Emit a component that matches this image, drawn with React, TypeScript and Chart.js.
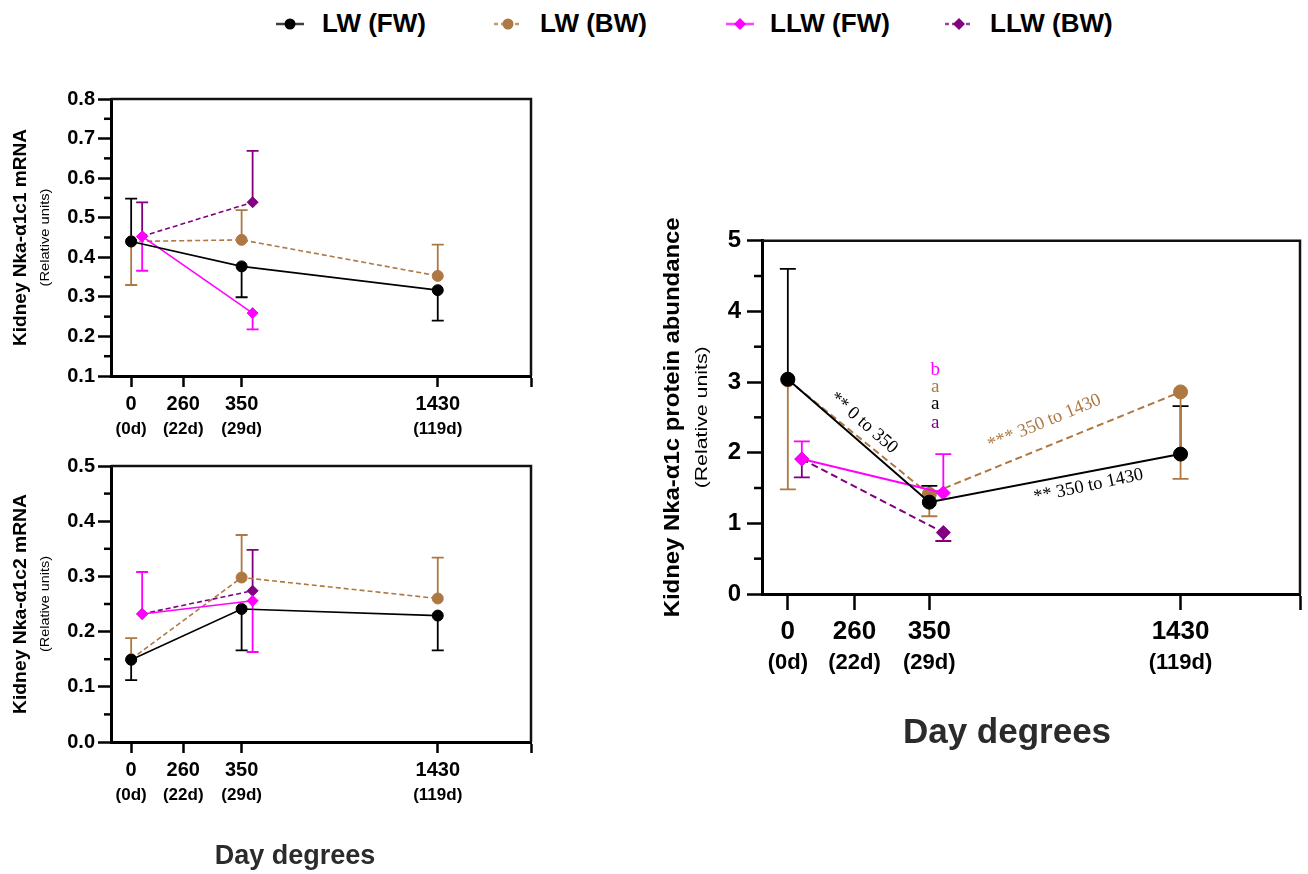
import React, { useEffect, useRef } from "react";
import { Chart, registerables, LinearScale } from "chart.js";

Chart.register(...registerables);

// ---------------- data ----------------
const seriesNames = ["LW (FW)", "LW (BW)", "LLW (FW)", "LLW (BW)"];
const tickDegrees = [0, 260, 350, 1430];
const tickDays = ["(0d)", "(22d)", "(29d)", "(119d)"];
const lwDegrees = [0, 350, 1430];
const llwDegrees = [0, 350];

// Kidney Nka-α1c1 mRNA
const c1Ticks = [0.1, 0.2, 0.3, 0.4, 0.5, 0.6, 0.7, 0.8];
const c1_lwFW = [0.44, 0.377, 0.317];
const c1_lwFW_hi = [0.548, null, null];
const c1_lwFW_lo = [null, 0.299, 0.24];
const c1_lwBW = [0.44, 0.444, 0.353];
const c1_lwBW_hi = [null, 0.519, 0.432];
const c1_lwBW_lo = [0.33, null, null];
const c1_llwFW = [0.453, 0.259];
const c1_llwFW_hi = [null, null];
const c1_llwFW_lo = [0.366, 0.218];
const c1_llwBW = [0.453, 0.539];
const c1_llwBW_hi = [0.539, 0.669];
const c1_llwBW_lo = [null, null];

// Kidney Nka-α1c2 mRNA
const c2Ticks = [0.0, 0.1, 0.2, 0.3, 0.4, 0.5];
const c2_lwFW = [0.149, 0.241, 0.229];
const c2_lwFW_hi = [null, null, null];
const c2_lwFW_lo = [0.112, 0.166, 0.166];
const c2_lwBW = [0.15, 0.298, 0.26];
const c2_lwBW_hi = [0.188, 0.375, 0.334];
const c2_lwBW_lo = [null, null, null];
const c2_llwFW = [0.232, 0.256];
const c2_llwFW_hi = [0.308, null];
const c2_llwFW_lo = [null, 0.163];
const c2_llwBW = [0.232, 0.274];
const c2_llwBW_hi = [null, 0.348];
const c2_llwBW_lo = [null, null];

// Kidney Nka-α1c protein abundance
const pTicks = [0, 1, 2, 3, 4, 5];
const p_lwFW = [3.04, 1.3, 1.98];
const p_lwFW_hi = [4.6, 1.53, 2.66];
const p_lwFW_lo = [null, null, null];
const p_lwBW = [3.03, 1.41, 2.86];
const p_lwBW_hi = [null, null, null];
const p_lwBW_lo = [1.48, 1.1, 1.63];
const p_llwFW = [1.91, 1.43];
const p_llwFW_hi = [2.16, 1.98];
const p_llwFW_lo = [null, null];
const p_llwBW = [1.91, 0.87];
const p_llwBW_hi = [null, null];
const p_llwBW_lo = [1.65, 0.75];

// significance letters at 350 (LLW FW, LW BW, LW FW, LLW BW)
const sigLetters = ["b", "a", "a", "a"];
const sigLetterValues = [3.17, 2.93, 2.69, 2.42];
// comparison labels: text, anchor degree, anchor value
const compTexts = ["** 0 to 350", "*** 350 to 1430", "** 350 to 1430"];
const compDegrees = [271, 845, 1034];
const compValues = [2.42, 2.43, 1.53];

// ---------------- styles ----------------
const SANS = '"Liberation Sans", Arial, Helvetica, sans-serif';
const SERIF = '"Liberation Serif", "Times New Roman", serif';
const C_BLACK = "#000000";
const C_BROWN = "#AE7843";
const C_PINK = "#FF00FF";
const C_PURPLE = "#800080";
const SERIES_COLORS = [C_BLACK, C_BROWN, C_PINK, C_PURPLE];
const SERIES_DASHED = [false, true, false, true];
const SERIES_DIAMOND = [false, false, true, true];
const SIG_COLORS = [C_PINK, C_BROWN, C_BLACK, C_PURPLE];
const COMP_COLORS = [C_BLACK, C_BROWN, C_BLACK];
const COMP_ANGLES = [41, -22.5, -12];

// piecewise x axis: [value, fraction of plot width]
const X_END = 1830;
const X_BREAKS: number[][] = [
  [-110, 0],
  [0, 0.048],
  [260, 0.172],
  [350, 0.311],
  [1430, 0.778],
  [X_END, 1],
];

class DegreeScale extends LinearScale {
  static id = "degree";
  static defaults = {};
  determineDataLimits() {
    (this as any).min = X_BREAKS[0][0];
    (this as any).max = X_BREAKS[X_BREAKS.length - 1][0];
  }
  buildTicks() {
    (this as any).start = (this as any).min;
    (this as any).end = (this as any).max;
    return [...tickDegrees, X_END].map((v) => ({ value: v }));
  }
  getPixelForValue(value: number) {
    if (value === null || value === undefined || isNaN(value)) return NaN;
    const b = X_BREAKS;
    let i = 1;
    while (i < b.length - 1 && value > b[i][0]) i++;
    const [v0, f0] = b[i - 1];
    const [v1, f1] = b[i];
    const f = f0 + ((value - v0) / (v1 - v0)) * (f1 - f0);
    const shift = (this.options as any).pixelShift || 0;
    return (this as any).left + f * (this as any).width + shift;
  }
  getValueForPixel(pixel: number) {
    const shift = (this.options as any).pixelShift || 0;
    const f = (pixel - shift - (this as any).left) / (this as any).width;
    const b = X_BREAKS;
    let i = 1;
    while (i < b.length - 1 && f > b[i][1]) i++;
    const [v0, f0] = b[i - 1];
    const [v1, f1] = b[i];
    return v0 + ((f - f0) / (f1 - f0)) * (v1 - v0);
  }
}
Chart.register(DegreeScale as any);

type Num = number | null;
interface SeriesSet {
  ys: number[][];
  hi: Num[][];
  lo: Num[][];
}

interface Panel {
  width: number;
  height: number;
  padTop: number;
  padRight: number;
  yWidth: number;
  xHeight: number;
  yTicks: number[];
  yDecimals: number;
  minorStep: number;
  minorLen: number;
  yTickLen: number;
  yTickPad: number;
  yTickSize: number;
  xTickLen: number;
  xTickPad: number;
  xTickSize: number;
  line2Size: number;
  line2Dy: number;
  llwShift: number;
  circleR: number;
  diamondR: number;
  lineW: number;
  dash: number[];
  cap: number;
  axisW: number;
  title: string;
  titleSize: number;
  titleX: number;
  titleLen: number;
  sub: string;
  subSize: number;
  subX: number;
  subLen: number;
  dayDeg?: { x: number; y: number; size: number };
  series: SeriesSet;
  annotations?: boolean;
}

function drawText(
  ctx: CanvasRenderingContext2D,
  text: string,
  x: number,
  y: number,
  font: string,
  color: string,
  angleDeg: number,
  targetLen?: number
) {
  ctx.save();
  ctx.font = font;
  ctx.fillStyle = color;
  ctx.textAlign = "center";
  ctx.textBaseline = "middle";
  const w = ctx.measureText(text).width;
  const sx = targetLen ? targetLen / w : 1;
  ctx.translate(x, y);
  ctx.rotate((angleDeg * Math.PI) / 180);
  ctx.scale(sx, 1);
  ctx.fillText(text, 0, 0);
  ctx.restore();
}

function buildChart(canvas: HTMLCanvasElement, p: Panel) {
  const xsFor = [lwDegrees, lwDegrees, llwDegrees, llwDegrees];
  const order = [0, 2, 1, 3]; // black on top, then pink, brown, purple
  const datasets = order.map((k) => {
    const color = SERIES_COLORS[k];
    const diamond = SERIES_DIAMOND[k];
    const xs = xsFor[k];
    return {
      label: seriesNames[k],
      data: xs.map((x, i) => ({ x, y: p.series.ys[k][i] })),
      errHi: p.series.hi[k],
      errLo: p.series.lo[k],
      borderColor: color,
      backgroundColor: color,
      pointBackgroundColor: color,
      pointBorderColor: color,
      borderWidth: p.lineW,
      borderDash: SERIES_DASHED[k] ? p.dash : [],
      pointStyle: diamond ? "rectRot" : "circle",
      pointRadius: diamond ? p.diamondR : p.circleR,
      pointBorderWidth: 1,
      xAxisID: diamond ? "xs" : "x",
      yAxisID: "y",
      tension: 0,
      fill: false,
    };
  });

  const extras = {
    id: "extras",
    beforeDatasetsDraw(chart: any) {
      const ctx = chart.ctx as CanvasRenderingContext2D;
      const ys = chart.scales.y;
      chart.data.datasets.forEach((ds: any, i: number) => {
        const meta = chart.getDatasetMeta(i);
        ctx.save();
        ctx.strokeStyle = ds.borderColor;
        ctx.lineWidth = 1.8;
        ctx.setLineDash([]);
        meta.data.forEach((pt: any, j: number) => {
          [ds.errHi[j], ds.errLo[j]].forEach((e: Num) => {
            if (e === null || e === undefined) return;
            const yE = ys.getPixelForValue(e);
            ctx.beginPath();
            ctx.moveTo(pt.x, pt.y);
            ctx.lineTo(pt.x, yE);
            ctx.moveTo(pt.x - p.cap / 2, yE);
            ctx.lineTo(pt.x + p.cap / 2, yE);
            ctx.stroke();
          });
        });
        ctx.restore();
      });
    },
    afterDraw(chart: any) {
      const ctx = chart.ctx as CanvasRenderingContext2D;
      const a = chart.chartArea;
      const xS = chart.scales.x;
      const yS = chart.scales.y;
      ctx.save();
      // top & right frame
      ctx.strokeStyle = "#111";
      ctx.lineWidth = p.axisW - 0.5;
      ctx.beginPath();
      ctx.moveTo(a.left, a.top);
      ctx.lineTo(a.right, a.top);
      ctx.lineTo(a.right, a.bottom);
      ctx.stroke();
      // minor ticks
      ctx.strokeStyle = "#000";
      ctx.lineWidth = 2.5;
      const ymin = p.yTicks[0];
      const ymax = p.yTicks[p.yTicks.length - 1];
      const n = Math.round((ymax - ymin) / p.minorStep);
      for (let i = 1; i < n; i += 2) {
        const v = ymin + i * p.minorStep;
        const y = yS.getPixelForValue(v);
        ctx.beginPath();
        ctx.moveTo(a.left - p.minorLen, y);
        ctx.lineTo(a.left, y);
        ctx.stroke();
      }
      ctx.restore();
      // second line of x tick labels
      tickDays.forEach((t, i) => {
        const x = xS.getPixelForValue(tickDegrees[i]);
        drawText(ctx, t, x, a.bottom + p.line2Dy, `bold ${p.line2Size}px ${SANS}`, "#000", 0);
      });
      // y titles
      const cy = (a.top + a.bottom) / 2;
      drawText(ctx, p.title, p.titleX, cy, `bold ${p.titleSize}px ${SANS}`, "#000", -90, p.titleLen);
      drawText(ctx, p.sub, p.subX, cy, `${p.subSize}px ${SANS}`, "#000", -90, p.subLen);
      if (p.dayDeg) {
        drawText(ctx, "Day degrees", p.dayDeg.x, p.dayDeg.y, `bold ${p.dayDeg.size}px ${SANS}`, "#2b2b2b", 0);
      }
      if (p.annotations) {
        const x350 = xS.getPixelForValue(350) + 6;
        sigLetters.forEach((t, i) => {
          drawText(ctx, t, x350, yS.getPixelForValue(sigLetterValues[i]), `19px ${SERIF}`, SIG_COLORS[i], 0);
        });
        compTexts.forEach((t, i) => {
          drawText(
            ctx,
            t,
            xS.getPixelForValue(compDegrees[i]),
            yS.getPixelForValue(compValues[i]),
            `18.5px ${SERIF}`,
            COMP_COLORS[i],
            COMP_ANGLES[i]
          );
        });
      }
    },
  };

  const xCommon = (shift: number, display: boolean) => ({
    type: "degree",
    axis: "x",
    position: "bottom",
    display,
    pixelShift: shift,
    border: { display: true, color: "#000", width: p.axisW },
    grid: {
      display: true,
      drawOnChartArea: false,
      drawTicks: true,
      tickLength: p.xTickLen,
      tickWidth: 2.5,
      tickColor: "#000",
    },
    ticks: {
      autoSkip: false,
      maxRotation: 0,
      minRotation: 0,
      padding: p.xTickPad,
      color: "#000",
      font: { family: SANS, size: p.xTickSize, weight: "bold" },
      callback: (v: number) => (v === X_END ? "" : String(v)),
    },
    afterFit: (s: any) => {
      s.height = display ? p.xHeight : 0;
    },
  });

  return new Chart(canvas, {
    type: "line",
    data: { datasets: datasets as any },
    plugins: [extras as any],
    options: {
      responsive: false,
      animation: false,
      maintainAspectRatio: false,
      layout: { padding: { top: p.padTop, right: p.padRight, left: 0, bottom: 0 } },
      plugins: { legend: { display: false }, tooltip: { enabled: false } },
      events: [],
      scales: {
        x: xCommon(0, true) as any,
        xs: xCommon(p.llwShift, false) as any,
        y: {
          type: "linear",
          position: "left",
          min: p.yTicks[0],
          max: p.yTicks[p.yTicks.length - 1],
          afterBuildTicks: (s: any) => {
            s.ticks = p.yTicks.map((v) => ({ value: v }));
          },
          border: { display: true, color: "#000", width: p.axisW },
          grid: {
            display: true,
            drawOnChartArea: false,
            drawTicks: true,
            tickLength: p.yTickLen,
            tickWidth: 2.5,
            tickColor: "#000",
          },
          ticks: {
            padding: p.yTickPad,
            color: "#000",
            font: { family: SANS, size: p.yTickSize, weight: "bold" },
            callback: (v: number) => Number(v).toFixed(p.yDecimals),
          },
          afterFit: (s: any) => {
            s.width = p.yWidth;
          },
        } as any,
      },
    },
  });
}

const smallBase = {
  width: 560,
  padRight: 29,
  yWidth: 111,
  minorLen: 7,
  yTickLen: 13,
  yTickPad: 3,
  yTickSize: 20,
  xTickLen: 11,
  xTickPad: 5,
  xTickSize: 20,
  line2Size: 17,
  line2Dy: 53,
  llwShift: 11,
  circleR: 5.5,
  diamondR: 5.5,
  lineW: 1.6,
  dash: [5, 3],
  cap: 12,
  axisW: 3,
  titleSize: 18,
  titleX: 21,
  subSize: 13,
  subX: 45,
};

const panelC1: Panel = {
  ...smallBase,
  height: 370,
  padTop: 19,
  xHeight: 74,
  yTicks: c1Ticks,
  yDecimals: 1,
  minorStep: 0.05,
  title: "Kidney Nka-α1c1 mRNA",
  titleLen: 217,
  sub: "(Relative units)",
  subLen: 98,
  series: {
    ys: [c1_lwFW, c1_lwBW, c1_llwFW, c1_llwBW],
    hi: [c1_lwFW_hi, c1_lwBW_hi, c1_llwFW_hi, c1_llwBW_hi],
    lo: [c1_lwFW_lo, c1_lwBW_lo, c1_llwFW_lo, c1_llwBW_lo],
  },
};

const panelC2: Panel = {
  ...smallBase,
  height: 434,
  padTop: 26,
  xHeight: 132,
  yTicks: c2Ticks,
  yDecimals: 1,
  minorStep: 0.05,
  title: "Kidney Nka-α1c2 mRNA",
  titleLen: 220,
  sub: "(Relative units)",
  subLen: 96,
  dayDeg: { x: 295, y: 417, size: 27 },
  series: {
    ys: [c2_lwFW, c2_lwBW, c2_llwFW, c2_llwBW],
    hi: [c2_lwFW_hi, c2_lwBW_hi, c2_llwFW_hi, c2_llwBW_hi],
    lo: [c2_lwFW_lo, c2_lwBW_lo, c2_llwFW_lo, c2_llwBW_lo],
  },
};

const panelP: Panel = {
  width: 678,
  height: 600,
  padTop: 50.7,
  padRight: 8,
  yWidth: 132,
  xHeight: 196,
  yTicks: pTicks,
  yDecimals: 0,
  minorStep: 0.5,
  minorLen: 8,
  yTickLen: 15,
  yTickPad: 6,
  yTickSize: 24,
  xTickLen: 16,
  xTickPad: 6,
  xTickSize: 26,
  line2Size: 22,
  line2Dy: 69,
  llwShift: 14,
  circleR: 7,
  diamondR: 7,
  lineW: 2,
  dash: [7, 4],
  cap: 16,
  axisW: 3,
  title: "Kidney Nka-α1c protein abundance",
  titleSize: 22,
  titleX: 43,
  titleLen: 400,
  sub: "(Relative units)",
  subSize: 17,
  subX: 72,
  subLen: 142,
  dayDeg: { x: 377, y: 543, size: 35 },
  annotations: true,
  series: {
    ys: [p_lwFW, p_lwBW, p_llwFW, p_llwBW],
    hi: [p_lwFW_hi, p_lwBW_hi, p_llwFW_hi, p_llwBW_hi],
    lo: [p_lwFW_lo, p_lwBW_lo, p_llwFW_lo, p_llwBW_lo],
  },
};

function ChartPanel({ panel, left, top }: { panel: Panel; left: number; top: number }) {
  const ref = useRef<HTMLCanvasElement | null>(null);
  useEffect(() => {
    if (!ref.current) return;
    const ch = buildChart(ref.current, panel);
    return () => ch.destroy();
  }, [panel]);
  return (
    <canvas
      ref={ref}
      width={panel.width}
      height={panel.height}
      style={{ position: "absolute", left, top, width: panel.width, height: panel.height }}
    />
  );
}

const legendMarkerCenters = [290, 508, 740, 959];
const legendTextLefts = [322, 540, 770, 990];

function LegendItem({ k }: { k: number }) {
  const color = SERIES_COLORS[k];
  const cx = legendMarkerCenters[k];
  return (
    <>
      <svg
        width={32}
        height={16}
        style={{ position: "absolute", left: cx - 16, top: 16 }}
      >
        <line
          x1={2}
          y1={8}
          x2={30}
          y2={8}
          stroke={color}
          strokeWidth={2.5}
          strokeDasharray={SERIES_DASHED[k] ? "4 3" : undefined}
          opacity={0.75}
        />
        {SERIES_DIAMOND[k] ? (
          <polygon points="16,2 22,8 16,14 10,8" fill={color} />
        ) : (
          <circle cx={16} cy={8} r={5.5} fill={color} />
        )}
      </svg>
      <div
        style={{
          position: "absolute",
          left: legendTextLefts[k],
          top: 8,
          height: 32,
          lineHeight: "32px",
          font: `bold 26px ${SANS}`,
          color: "#000",
          whiteSpace: "nowrap",
        }}
      >
        {seriesNames[k]}
      </div>
    </>
  );
}

export default function App() {
  return (
    <div
      style={{
        position: "absolute",
        left: 0,
        top: 0,
        width: 1308,
        height: 874,
        background: "#fff",
        overflow: "hidden",
      }}
    >
      {[0, 1, 2, 3].map((k) => (
        <LegendItem key={k} k={k} />
      ))}
      <ChartPanel panel={panelC1} left={0} top={80} />
      <ChartPanel panel={panelC2} left={0} top={440} />
      <ChartPanel panel={panelP} left={630} top={190} />
    </div>
  );
}
